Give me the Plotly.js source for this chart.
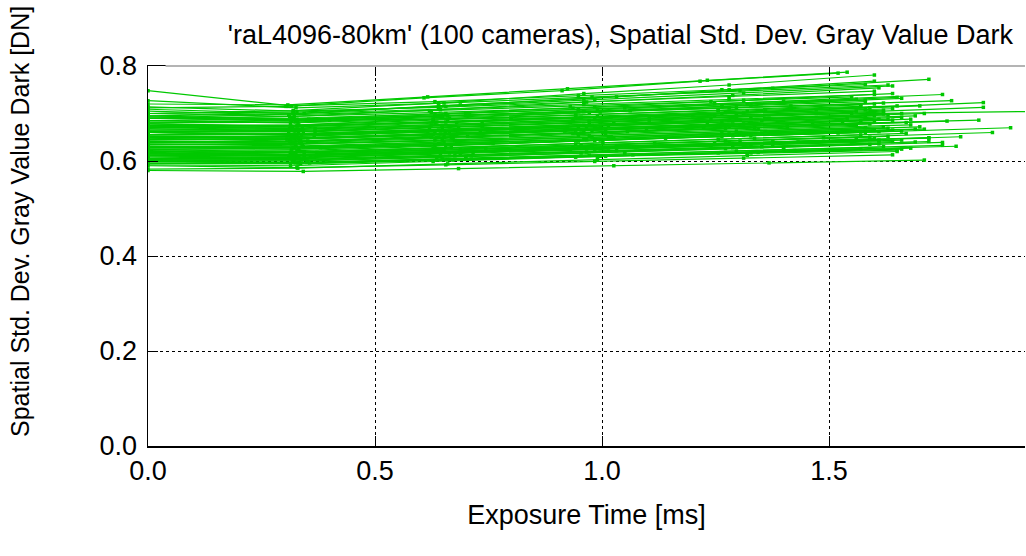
<!DOCTYPE html>
<html>
<head>
<meta charset="utf-8">
<script src="https://cdn.plot.ly/plotly-3.0.1.min.js"></script>
<style>html,body{margin:0;padding:0;background:#fff;}#chart{width:1026px;height:556px;}</style>
</head>
<body>
<div id="chart"></div>
<script>
// Chart texts
const TITLE = "'raL4096-80km' (100 cameras), Spatial Std. Dev. Gray Value Dark";
const X_TITLE = "Exposure Time [ms]";
const Y_TITLE = "Spatial Std. Dev. Gray Value Dark [DN]";
const X_TICKS = [0, 0.5, 1.0, 1.5];
const X_TICK_LABELS = ["0.0", "0.5", "1.0", "1.5"];
const Y_TICKS = [0, 0.2, 0.4, 0.6, 0.8];
const Y_TICK_LABELS = ["0.0", "0.2", "0.4", "0.6", "0.8"];

// Exposure series per camera: fraction of each camera's maximum exposure time
const EXPOSURE_STEPS = [0, 0.2, 0.4, 0.6, 0.8, 1.0];

// Maximum exposure time per camera [ms]
const T_MAX = [
  1.54,1.52,1.60,1.60,1.58,1.72,1.63,1.64,1.61,1.60,
  1.75,1.64,1.60,1.65,1.66,1.77,1.84,1.84,1.70,1.71,
  2.00,1.76,1.83,1.90,1.86,1.71,1.69,1.79,1.78,1.75,
  1.75,1.72,1.72,1.65,1.64,1.71,1.68,1.66,1.66,1.64,
  1.61,1.62,1.62,1.61,1.63,1.63,1.64,1.67,1.68,1.66,
  1.61,1.61,1.72,1.65,1.58,1.57,1.59,1.56,1.60,1.55,
  1.58,1.57,1.59,1.56,1.62,1.60,1.58,1.57,1.63,1.60,
  1.55,1.59,1.62,1.57,1.60,1.64,1.66,1.69,1.68,1.70,
  1.67,1.69,1.56,1.58,1.62,1.65,1.54,1.53,1.58,1.61,
  1.59,1.56,1.63,1.66,1.60,1.64,1.58,1.62,1.55,1.57
];

// Spatial std. dev. gray value dark [DN] per camera at each exposure step
const STD_DARK = [
  [0.720,0.718,0.735,0.752,0.770,0.787],
  [0.712,0.715,0.733,0.748,0.768,0.785],
  [0.700,0.706,0.722,0.742,0.760,0.781],
  [0.695,0.700,0.716,0.731,0.750,0.768],
  [0.748,0.716,0.725,0.738,0.750,0.761],
  [0.690,0.700,0.718,0.735,0.753,0.772],
  [0.727,0.712,0.722,0.735,0.748,0.760],
  [0.700,0.703,0.715,0.729,0.743,0.758],
  [0.690,0.694,0.708,0.724,0.738,0.754],
  [0.714,0.705,0.713,0.724,0.735,0.747],
  [0.680,0.686,0.700,0.712,0.726,0.740],
  [0.685,0.688,0.700,0.714,0.728,0.742],
  [0.709,0.700,0.709,0.719,0.730,0.740],
  [0.680,0.682,0.695,0.707,0.720,0.734],
  [0.672,0.676,0.690,0.703,0.718,0.732],
  [0.690,0.688,0.697,0.706,0.716,0.727],
  [0.665,0.668,0.680,0.693,0.708,0.723],
  [0.660,0.662,0.673,0.686,0.700,0.713],
  [0.670,0.670,0.681,0.693,0.705,0.716],
  [0.655,0.658,0.668,0.679,0.690,0.700],
  [0.690,0.686,0.690,0.695,0.700,0.705],
  [0.640,0.642,0.652,0.662,0.673,0.684],
  [0.650,0.650,0.660,0.668,0.677,0.686],
  [0.625,0.628,0.637,0.648,0.659,0.670],
  [0.615,0.618,0.627,0.638,0.649,0.660],
  [0.630,0.630,0.638,0.648,0.657,0.667],
  [0.640,0.636,0.643,0.651,0.659,0.667],
  [0.605,0.608,0.618,0.628,0.640,0.651],
  [0.595,0.596,0.604,0.613,0.622,0.631],
  [0.600,0.600,0.609,0.619,0.629,0.639],
  [0.598,0.597,0.606,0.615,0.624,0.633],
  [0.612,0.612,0.620,0.630,0.640,0.649],
  [0.605,0.605,0.613,0.622,0.632,0.641],
  [0.583,0.585,0.594,0.603,0.612,0.620],
  [0.590,0.586,0.592,0.599,0.606,0.613],
  [0.580,0.578,0.584,0.590,0.596,0.602],
  [0.595,0.594,0.602,0.610,0.618,0.627],
  [0.600,0.596,0.603,0.610,0.617,0.625],
  [0.610,0.608,0.617,0.626,0.635,0.644],
  [0.615,0.610,0.618,0.625,0.633,0.641],
  [0.620,0.614,0.620,0.628,0.635,0.643],
  [0.665,0.664,0.674,0.685,0.696,0.707],
  [0.655,0.657,0.667,0.677,0.688,0.699],
  [0.650,0.648,0.657,0.668,0.678,0.688],
  [0.640,0.642,0.653,0.664,0.676,0.688],
  [0.630,0.630,0.640,0.650,0.660,0.669],
  [0.660,0.655,0.662,0.670,0.678,0.686],
  [0.642,0.641,0.650,0.660,0.671,0.681],
  [0.645,0.646,0.656,0.666,0.677,0.688],
  [0.625,0.625,0.634,0.644,0.653,0.663],
  [0.618,0.613,0.620,0.628,0.636,0.644],
  [0.605,0.603,0.611,0.619,0.628,0.636],
  [0.620,0.617,0.624,0.632,0.640,0.648],
  [0.600,0.596,0.603,0.609,0.616,0.623],
  [0.690,0.684,0.694,0.704,0.714,0.725],
  [0.675,0.675,0.686,0.696,0.707,0.718],
  [0.670,0.672,0.682,0.692,0.702,0.712],
  [0.672,0.668,0.676,0.686,0.695,0.705],
  [0.660,0.656,0.665,0.675,0.685,0.695],
  [0.668,0.662,0.671,0.681,0.690,0.700],
  [0.652,0.651,0.661,0.671,0.682,0.692],
  [0.645,0.646,0.656,0.665,0.675,0.685],
  [0.640,0.640,0.649,0.659,0.668,0.678],
  [0.648,0.642,0.650,0.658,0.667,0.675],
  [0.635,0.635,0.644,0.653,0.663,0.672],
  [0.628,0.628,0.637,0.647,0.657,0.666],
  [0.630,0.625,0.633,0.642,0.651,0.660],
  [0.620,0.618,0.627,0.636,0.646,0.655],
  [0.615,0.614,0.623,0.633,0.642,0.652],
  [0.612,0.610,0.619,0.628,0.638,0.647],
  [0.608,0.606,0.614,0.623,0.631,0.640],
  [0.602,0.600,0.608,0.617,0.626,0.635],
  [0.600,0.596,0.604,0.612,0.621,0.630],
  [0.685,0.680,0.688,0.697,0.706,0.715],
  [0.695,0.688,0.695,0.704,0.712,0.720],
  [0.678,0.674,0.682,0.691,0.701,0.710],
  [0.662,0.662,0.672,0.681,0.691,0.700],
  [0.655,0.655,0.665,0.675,0.685,0.695],
  [0.638,0.638,0.648,0.657,0.667,0.676],
  [0.635,0.632,0.641,0.651,0.662,0.672],
  [0.622,0.620,0.629,0.639,0.648,0.658],
  [0.603,0.602,0.611,0.621,0.630,0.640],
  [0.700,0.694,0.702,0.711,0.721,0.730],
  [0.693,0.690,0.699,0.709,0.718,0.728],
  [0.682,0.682,0.692,0.702,0.712,0.722],
  [0.672,0.674,0.684,0.695,0.705,0.716],
  [0.660,0.654,0.662,0.672,0.681,0.690],
  [0.650,0.646,0.654,0.663,0.671,0.680],
  [0.642,0.636,0.644,0.652,0.661,0.670],
  [0.632,0.628,0.636,0.645,0.653,0.662],
  [0.625,0.618,0.626,0.634,0.642,0.650],
  [0.615,0.612,0.620,0.628,0.637,0.645],
  [0.650,0.652,0.663,0.675,0.686,0.697],
  [0.648,0.648,0.659,0.670,0.681,0.692],
  [0.638,0.640,0.650,0.661,0.671,0.682],
  [0.620,0.622,0.632,0.643,0.654,0.665],
  [0.678,0.672,0.681,0.690,0.699,0.708],
  [0.670,0.666,0.675,0.684,0.694,0.703],
  [0.705,0.697,0.706,0.715,0.725,0.735],
  [0.592,0.590,0.599,0.608,0.617,0.626]
];

const GREEN = '#00c800';
const FONT = 'Liberation Sans, Arial, sans-serif';

const traces = T_MAX.map((t, i) => ({
  type: 'scatter',
  mode: 'lines+markers',
  x: EXPOSURE_STEPS.map(f => f * t),
  y: STD_DARK[i],
  line: {color: GREEN, width: 1.2},
  marker: {color: GREEN, size: 3.5, symbol: 'square'},
  cliponaxis: true,
  showlegend: false,
  name: 'camera ' + (i + 1)
}));

const W = 1026, H = 556;
const L = 148, R = 1, T = 66, B = 110;

const layout = {
  width: W, height: H,
  margin: {l: L, r: R, t: T, b: B, pad: 0},
  paper_bgcolor: '#fff',
  plot_bgcolor: '#fff',
  font: {family: FONT, size: 27, color: '#000'},
  title: {
    text: TITLE,
    font: {family: FONT, size: 27, color: '#000'},
    xref: 'paper', x: 1 - 12 / (W - L - R), xanchor: 'right',
    yref: 'container', y: 1 - 35 / H, yanchor: 'middle'
  },
  xaxis: {
    range: [0, (W - L - R) / 454],
    tickvals: X_TICKS, ticktext: X_TICK_LABELS,
    ticks: 'inside', ticklen: 10, tickwidth: 1, tickcolor: '#000',
    showline: true, linecolor: '#000', linewidth: 1.5, mirror: 'ticks',
    showgrid: true, gridcolor: '#000', gridwidth: 1, griddash: '3px,3px',
    zeroline: false,
    tickfont: {family: FONT, size: 27},
    title: {text: X_TITLE, font: {family: FONT, size: 27}, standoff: 20}
  },
  yaxis: {
    range: [0, 0.8],
    tickvals: Y_TICKS, ticktext: Y_TICK_LABELS,
    ticks: 'inside', ticklen: 10, tickwidth: 1, tickcolor: '#000',
    showline: true, linecolor: '#000', linewidth: 1.5, mirror: false,
    showgrid: true, gridcolor: '#000', gridwidth: 1, griddash: '3px,3px',
    zeroline: false,
    tickfont: {family: FONT, size: 27},
    ticklabelstandoff: 4
  },
  shapes: [{
    type: 'line', xref: 'paper', yref: 'paper', x0: 0.02, x1: 1, y0: 1, y1: 1,
    line: {color: '#b4b4b4', width: 2}, layer: 'above'
  }],
  annotations: [{
    text: Y_TITLE, textangle: -90, showarrow: false,
    xref: 'paper', yref: 'paper',
    x: -128 / (W - L - R), xanchor: 'center',
    y: 1 - (222 - T) / (H - T - B), yanchor: 'middle',
    font: {family: FONT, size: 25, color: '#000'}
  }]
};

Plotly.newPlot('chart', traces, layout, {staticPlot: true, displayModeBar: false});
</script>
</body>
</html>
